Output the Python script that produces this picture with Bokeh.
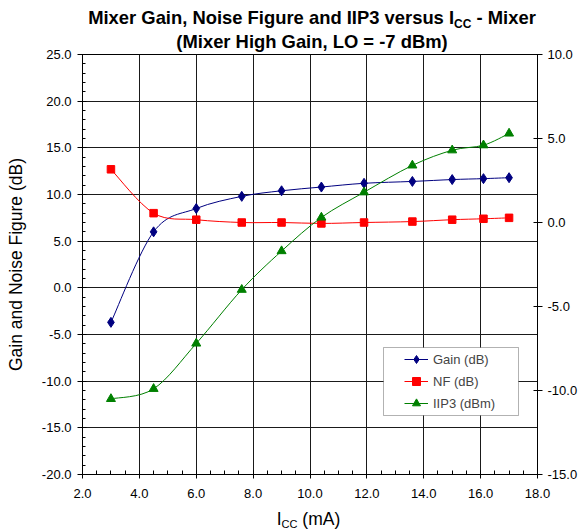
import numpy as np
from bokeh.plotting import figure
from bokeh.layouts import column
from bokeh.models import (Range1d, LinearAxis, FixedTicker, PrintfTickFormatter,
                          Legend, LegendItem, BoxAnnotation, Div)
from bokeh.embed import file_html
from bokeh.resources import INLINE

# ---- data ----
icc_ma = [3.0, 4.5, 6.0, 7.6, 9.0, 10.4, 11.9, 13.6, 15.0, 16.1, 17.0]
gain_db = [-3.7, 6.0, 8.5, 9.8, 10.4, 10.8, 11.2, 11.4, 11.6, 11.7, 11.8]
nf_db = [12.7, 8.0, 7.3, 7.0, 7.0, 6.9, 7.0, 7.1, 7.3, 7.4, 7.5]
iip3_dbm = [-10.5, -9.9, -7.2, -4.0, -1.7, 0.3, 1.8, 3.4, 4.3, 4.6, 5.3]

x_ticks = [2, 4, 6, 8, 10, 12, 14, 16, 18]
left_ticks = [-20, -15, -10, -5, 0, 5, 10, 15, 20, 25]
right_ticks = [-15, -10, -5, 0, 5, 10]

FONT = "Liberation Sans"
W = 581


def smooth(xs, ys):
    """Bezier control points (Catmull-Rom style, as in spreadsheet smoothed lines)."""
    x = np.asarray(xs, float)
    y = np.asarray(ys, float)
    n = len(x)
    xp = np.concatenate([[x[0]], x, [x[-1]]])
    yp = np.concatenate([[y[0]], y, [y[-1]]])
    return dict(
        x0=x[:-1], y0=y[:-1], x1=x[1:], y1=y[1:],
        cx0=x[:-1] + (xp[2:n + 1] - xp[0:n - 1]) / 6.0,
        cy0=y[:-1] + (yp[2:n + 1] - yp[0:n - 1]) / 6.0,
        cx1=x[1:] - (xp[3:n + 2] - xp[1:n]) / 6.0,
        cy1=y[1:] - (yp[3:n + 2] - yp[1:n]) / 6.0,
    )


title = Div(
    text=(f'<div style="box-sizing:border-box;width:{W}px;padding-left:43px;'
          f'padding-top:7px;text-align:center;font-family:\'{FONT}\';'
          'font-weight:bold;font-size:18.4px;line-height:22px;color:black;'
          'white-space:nowrap">'
          'Mixer Gain, Noise Figure and IIP3 versus I'
          '<span style="font-size:12px;position:relative;top:4px">CC</span>'
          ' - Mixer<br>(Mixer High Gain, LO = -7 dBm)</div>'),
    width=W, height=46, margin=(0, 0, 0, 0), styles={"overflow": "visible"})

p = figure(width=W, height=464, output_backend="svg", toolbar_location=None,
           x_range=Range1d(2, 18), y_range=Range1d(-20, 25),
           min_border_left=82, min_border_right=44, min_border_top=8,
           min_border_bottom=36, background_fill_color="white",
           border_fill_alpha=0, margin=(0, 0, 0, 0))
p.outline_line_color = "black"
p.outline_line_width = 1
p.extra_y_ranges = {"right": Range1d(-15, 10)}

# axes
xa = p.xaxis[0]
xa.ticker = FixedTicker(ticks=x_ticks, minor_ticks=list(np.arange(2, 18.01, 0.5)))
ya = p.yaxis[0]
ya.ticker = FixedTicker(ticks=left_ticks, minor_ticks=list(range(-20, 26)))
ra = LinearAxis(y_range_name="right",
                ticker=FixedTicker(ticks=right_ticks, minor_ticks=[]))
p.add_layout(ra, "right")

for ax in (xa, ya, ra):
    ax.formatter = PrintfTickFormatter(format="%.1f")
    ax.axis_line_color = "black"
    ax.major_tick_line_color = "black"
    ax.minor_tick_line_color = "black"
    ax.major_label_text_font = FONT
    ax.major_label_text_font_size = "13px"
    ax.major_label_text_color = "black"

xa.major_tick_in = 4
xa.major_tick_out = 4
xa.minor_tick_in = 4
xa.minor_tick_out = 0
xa.major_label_standoff = 10

ya.major_tick_in = 4
ya.major_tick_out = 5
ya.minor_tick_in = 3
ya.minor_tick_out = 0
ya.major_label_standoff = 6
ya.axis_label = "Gain and Noise Figure (dB)"
ya.axis_label_text_font = FONT
ya.axis_label_text_font_size = "17.5px"
ya.axis_label_text_font_style = "normal"
ya.axis_label_text_color = "black"
ya.axis_label_standoff = 13

ra.major_tick_in = 4
ra.major_tick_out = 5
ra.major_label_standoff = 5

p.xgrid.ticker = xa.ticker
p.ygrid.ticker = ya.ticker
for g in (p.xgrid[0], p.ygrid[0]):
    g.grid_line_color = "#1a1a1a"
    g.grid_line_width = 1

# series
gain_curve = p.bezier(line_color="#000080", line_width=1, **smooth(icc_ma, gain_db))
gain_pts = p.scatter(icc_ma, gain_db, marker="diamond", size=10,
                     fill_color="#000080", line_color="#000080")
nf_curve = p.bezier(line_color="#FF0000", line_width=1, **smooth(icc_ma, nf_db))
nf_pts = p.scatter(icc_ma, nf_db, marker="square", size=7.5,
                   fill_color="#FF0000", line_color="#FF0000")
ip_curve = p.bezier(line_color="#008000", line_width=1, y_range_name="right",
                    **smooth(icc_ma, iip3_dbm))
ip_pts = p.scatter(icc_ma, iip3_dbm, marker="triangle", size=9,
                   fill_color="#008000", line_color="#008000",
                   y_range_name="right")

# legend box (canvas pixels of the figure) + legend
box = BoxAnnotation(left=383, right=518, top=301, bottom=369,
                    left_units="canvas", right_units="canvas",
                    top_units="canvas", bottom_units="canvas",
                    fill_color="white", fill_alpha=1.0,
                    line_color="black", line_width=1, level="annotation")
p.add_layout(box)
legend = Legend(items=[
    LegendItem(label="Gain (dB)", renderers=[gain_curve, gain_pts]),
    LegendItem(label="NF (dB)", renderers=[nf_curve, nf_pts]),
    LegendItem(label="IIP3 (dBm)", renderers=[ip_curve, ip_pts]),
], location=(320, 59), glyph_width=24, glyph_height=20, spacing=2, padding=2,
    margin=0, label_standoff=5, label_text_font=FONT,
    label_text_font_size="13px", border_line_alpha=0,
    background_fill_alpha=0)
p.add_layout(legend, "center")

xlabel = Div(
    text=(f'<div style="box-sizing:border-box;width:{W}px;padding-left:36px;'
          f'text-align:center;font-family:\'{FONT}\';'
          'font-size:17.5px;line-height:18px;color:black;white-space:nowrap">'
          'I<span style="font-size:11px;position:relative;top:3px">CC</span>'
          ' (mA)</div>'),
    width=W, height=22, margin=(0, 0, 0, 0), styles={"overflow": "visible"})

layout = column(title, p, xlabel, spacing=0)
open("out.html", "w").write(file_html(layout, INLINE))
